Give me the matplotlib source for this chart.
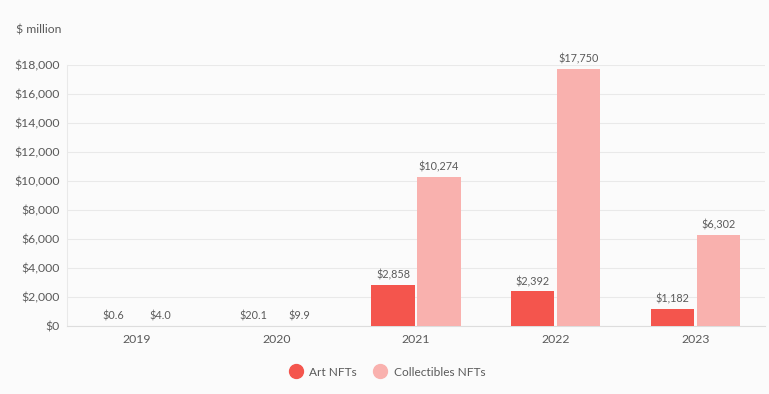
import matplotlib.pyplot as plt
import numpy as np
from matplotlib.ticker import FuncFormatter, MultipleLocator

# data
years = ["2019", "2020", "2021", "2022", "2023"]
art_nfts = [0.6, 20.1, 2858, 2392, 1182]
collectibles_nfts = [4.0, 9.9, 10274, 17750, 6302]
art_labels = ["$0.6", "$20.1", "$2,858", "$2,392", "$1,182"]
coll_labels = ["$4.0", "$9.9", "$10,274", "$17,750", "$6,302"]

art_color = "#f4554d"
coll_color = "#f9b1ae"
text_color = "#5a5a5a"
bg = "#fbfbfb"

plt.rcParams['font.family'] = ['Lato', 'DejaVu Sans']

fig = plt.figure(figsize=(7.69, 3.94), dpi=100, facecolor=bg)
ax = fig.add_axes([67 / 769, 1 - 326 / 394, 698 / 769, 261 / 394], facecolor=bg)

x = np.arange(len(years))
w = 0.31
off = 0.165
b1 = ax.bar(x - off, art_nfts, w, color=art_color, label="Art NFTs", zorder=3)
b2 = ax.bar(x + off, collectibles_nfts, w, color=coll_color, label="Collectibles NFTs", zorder=3)

for bars, labels in ((b1, art_labels), (b2, coll_labels)):
    for bar, lab in zip(bars, labels):
        ax.annotate(lab, (bar.get_x() + bar.get_width() / 2, bar.get_height()),
                    xytext=(0, 3), textcoords="offset points", ha="center", va="bottom",
                    fontsize=7.8, color=text_color)

ax.set_xlim(-0.5, 4.5)
ax.set_ylim(0, 18000)
ax.yaxis.set_major_locator(MultipleLocator(2000))
ax.yaxis.set_major_formatter(FuncFormatter(lambda v, p: f"${v:,.0f}"))
ax.set_xticks(x)
ax.set_xticklabels(years)
ax.tick_params(axis="both", length=0, labelsize=8.8, colors=text_color)
ax.tick_params(axis="x", pad=6)
ax.tick_params(axis="y", pad=5)
ax.grid(axis="y", color="#e9e9e9", linewidth=0.8, zorder=0)
for s in ["top", "right"]:
    ax.spines[s].set_visible(False)
ax.spines["left"].set_color("#e9e9e9")
ax.spines["bottom"].set_color("#dddddd")

fig.text(16 / 769, 1 - 30 / 394, "$ million", fontsize=8.8, color=text_color, va="center")

handles = [plt.Line2D([], [], marker="o", linestyle="", markersize=10, color=c) for c in (art_color, coll_color)]
fig.legend(handles, ["Art NFTs", "Collectibles NFTs"], loc="center", bbox_to_anchor=(0.5, 1 - 372 / 394),
           ncol=2, frameon=False, fontsize=8.6, labelcolor=text_color, handletextpad=0.1, columnspacing=1.0)

plt.savefig("out.png", dpi=100, facecolor=bg)
